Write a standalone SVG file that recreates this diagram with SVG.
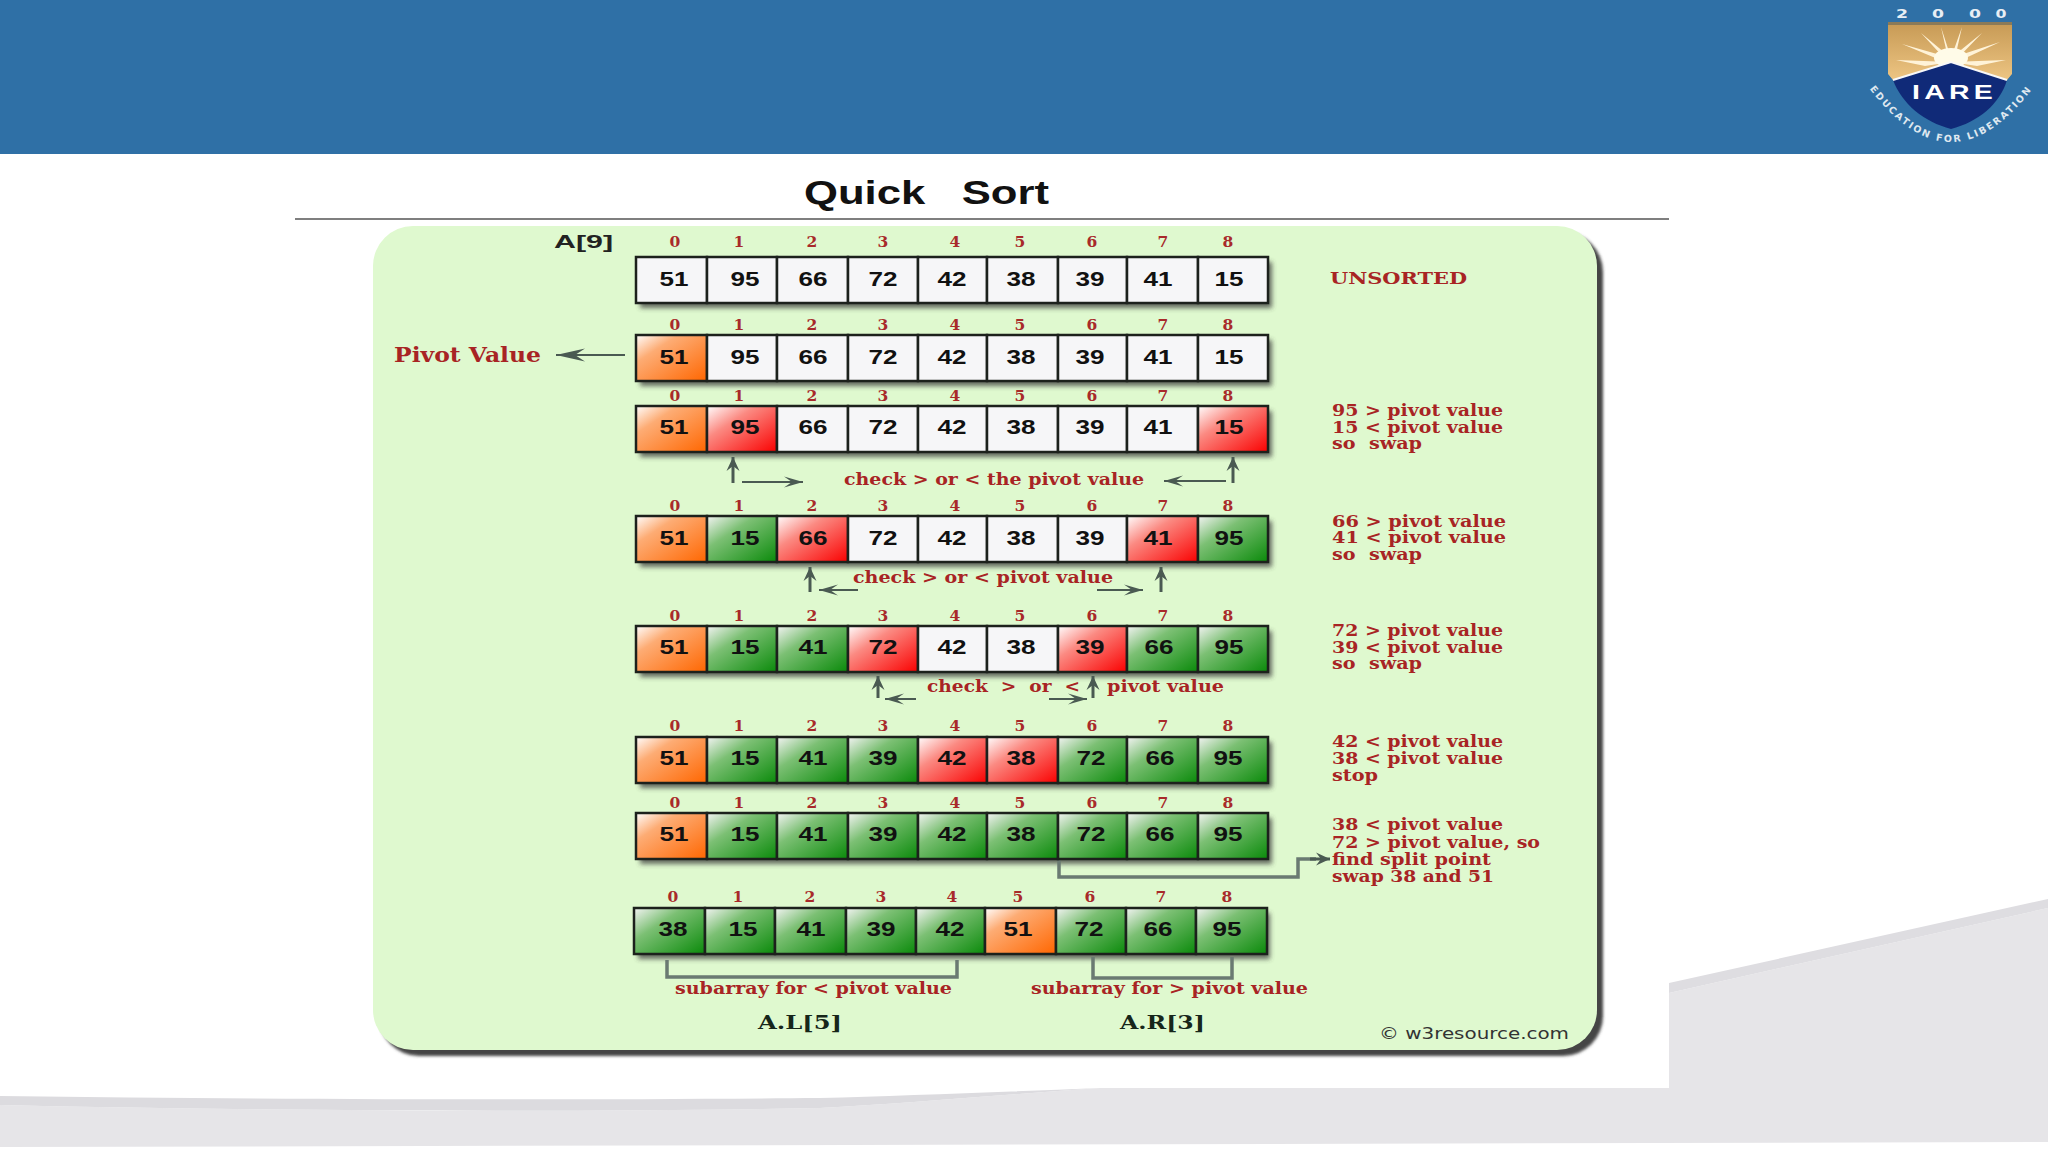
<svg xmlns="http://www.w3.org/2000/svg" width="2048" height="1152" viewBox="0 0 2048 1152">
<style>
.c{stroke:#1c211c;stroke-width:2.5}
.w{fill:#f6f6f8}.o{fill:url(#go)}.r{fill:url(#gr)}.g{fill:url(#gg)}
.i{font:bold 15.5px "DejaVu Serif",serif;fill:#a82a2a;text-anchor:middle}
.v{font:bold 20px "Liberation Sans",Arial,sans-serif;fill:#111;text-anchor:middle}
.t{font:bold 16px "DejaVu Serif",serif;fill:#a82424}
.k{font:bold 19px "DejaVu Serif",serif;fill:#16261a}
.l{fill:none;stroke:#4a5a52;stroke-width:2}
.u{fill:none;stroke:#4a5a52;stroke-width:3}
.b{fill:none;stroke:#6a7a72;stroke-width:3.5}
.s{fill:#3a3a3a;opacity:.75;filter:url(#bl)}
.y{font-family:"DejaVu Sans",sans-serif;font-weight:bold;font-size:13px;fill:#e8eef4;text-anchor:middle}
</style>
<defs>
<linearGradient id="go" x1="0" y1="0" x2="1" y2="1"><stop offset="0" stop-color="#fff"/><stop offset=".3" stop-color="#fdac74"/><stop offset="1" stop-color="#ff6600"/></linearGradient>
<linearGradient id="gr" x1="0" y1="0" x2="1" y2="1"><stop offset="0" stop-color="#fff"/><stop offset=".35" stop-color="#fb8a82"/><stop offset="1" stop-color="#fa0000"/></linearGradient>
<linearGradient id="gg" x1="0" y1="0" x2="1" y2="1"><stop offset="0" stop-color="#f4f4f4"/><stop offset=".35" stop-color="#7cc074"/><stop offset="1" stop-color="#0a8a0a"/></linearGradient>
<linearGradient id="gold" x1="0" y1="0" x2="0" y2="1"><stop offset="0" stop-color="#c79a55"/><stop offset="1" stop-color="#edc583"/></linearGradient>
<filter id="bl" x="-10%" y="-30%" width="120%" height="160%"><feGaussianBlur stdDeviation="2.5"/></filter>
<filter id="bl2" x="-5%" y="-5%" width="110%" height="110%"><feGaussianBlur stdDeviation="1.5"/></filter>
<marker id="ap" markerUnits="userSpaceOnUse" markerWidth="30" markerHeight="14" refX="29" refY="7" orient="auto"><path d="M29,7 L0,0.5 L10,7 L0,13.5 Z" fill="#4a5a52"/></marker>
<marker id="ah" markerUnits="userSpaceOnUse" markerWidth="20" markerHeight="12" refX="19" refY="6" orient="auto"><path d="M19,6 L0,0.5 L8,6 L0,11.5 Z" fill="#4a5a52"/></marker>
<marker id="au" markerUnits="userSpaceOnUse" markerWidth="15" markerHeight="14" refX="14" refY="7" orient="auto"><path d="M14,7 L0,0.5 L5,7 L0,13.5 Z" fill="#4a5a52"/></marker>
<path id="arc" d="M1866,84 Q1951,200 2036,84"/>
</defs>
<rect width="2048" height="1152" fill="#fff"/>
<g id="footer">
<path d="M0,1105 C300,1112 600,1112 820,1108 C900,1104 1000,1095 1100,1088 L1669,1088 L1669,993 L2048,908 L2048,1142 L0,1147 Z" fill="#e6e5e8"/>
<path d="M0,1096 C300,1100 600,1100 820,1098 C900,1096 1000,1092 1100,1088 C1000,1095 900,1104 820,1108 C600,1112 300,1112 0,1105 Z" fill="#dcdbdf"/>
<path d="M1669,983 L2048,899 L2048,908 L1669,993 Z" fill="#dedde1"/>
</g>
<rect id="header" width="2048" height="154" fill="#2f70a6"/>
<g id="logo">
<path d="M1888,23 L2012,23 L2012,74 L2007,80 L1951,62 L1893,80 L1888,74 Z" fill="url(#gold)"/>
<rect x="1888" y="22" width="124" height="3" fill="#8a7a58"/>
<path d="M1951,58 L1902,44 L1945,62 Z M1951,58 L1921,33 L1945,59 Z M1951,58 L1941,27 L1948,58 Z M1951,58 L1962,27 L1955,58 Z M1951,58 L1982,33 L1957,59 Z M1951,58 L2000,42 L1957,62 Z M1951,62 L1896,60 L1925,66 Z M1951,62 L2006,60 L1977,66 Z" fill="#fff3d8"/>
<ellipse cx="1951" cy="58" rx="17" ry="10" fill="#fffbe8"/>
<path d="M1893,80 L1951,62 L2007,80 C2000,104 1978,122 1951,129 C1924,122 1902,104 1893,80 Z" fill="#102a78"/>
<path d="M1893,80 L1951,62 L2007,80" fill="none" stroke="#f8f8f8" stroke-width="2"/>
<text x="1954.5" y="99" text-anchor="middle" font-family="'Liberation Sans',sans-serif" font-weight="bold" font-size="20" letter-spacing="3" fill="#fff" textLength="85" lengthAdjust="spacingAndGlyphs">IARE</text>
<text class="y" x="1902" y="18" textLength="12" lengthAdjust="spacingAndGlyphs">2</text>
<text class="y" x="1938" y="18" textLength="12" lengthAdjust="spacingAndGlyphs">0</text>
<text class="y" x="1975" y="18" textLength="12" lengthAdjust="spacingAndGlyphs">0</text>
<text class="y" x="2001" y="18" textLength="11" lengthAdjust="spacingAndGlyphs">0</text>
<text font-family="'DejaVu Sans',sans-serif" font-weight="bold" font-size="9.5" letter-spacing="2" fill="#dfe8f0" text-anchor="middle"><textPath href="#arc" startOffset="50%">EDUCATION FOR LIBERATION</textPath></text>
</g>
<g id="title">
<text x="804" y="204" xml:space="preserve" font-family="'Liberation Sans',Arial,sans-serif" font-weight="bold" font-size="34" fill="#111" textLength="245" lengthAdjust="spacingAndGlyphs">Quick   Sort</text>
<line x1="295" y1="219" x2="1669" y2="219" stroke="#555" stroke-width="1.5"/>
</g>
<g id="panel">
<rect x="379" y="232" width="1224" height="824" rx="40" fill="#444" filter="url(#bl2)"/>
<rect x="373" y="226" width="1224" height="824" rx="40" fill="#dff9cf"/>
</g>
<g id="shadows">
<rect class="s" x="640" y="262" width="632" height="46"/>
<rect class="s" x="640" y="340" width="632" height="46"/>
<rect class="s" x="640" y="411" width="632" height="46"/>
<rect class="s" x="640" y="521" width="632" height="46"/>
<rect class="s" x="640" y="631" width="632" height="46"/>
<rect class="s" x="640" y="742" width="632" height="46"/>
<rect class="s" x="640" y="818" width="632" height="46"/>
<rect class="s" x="638" y="913" width="632" height="46"/>
</g>
<g id="connectors">
<line class="l" x1="625" y1="355" x2="556" y2="355" marker-end="url(#ap)"/>
<line class="u" x1="733" y1="483" x2="733" y2="457" marker-end="url(#au)"/>
<line class="l" x1="742" y1="482" x2="803" y2="482" marker-end="url(#ah)"/>
<line class="u" x1="1233" y1="483" x2="1233" y2="457" marker-end="url(#au)"/>
<line class="l" x1="1226" y1="481" x2="1164" y2="481" marker-end="url(#ah)"/>
<line class="u" x1="810" y1="592" x2="810" y2="567" marker-end="url(#au)"/>
<line class="l" x1="858" y1="590" x2="819" y2="590" marker-end="url(#ah)"/>
<line class="u" x1="1161" y1="592" x2="1161" y2="567" marker-end="url(#au)"/>
<line class="l" x1="1097" y1="590" x2="1143" y2="590" marker-end="url(#ah)"/>
<line class="u" x1="878" y1="698" x2="878" y2="676" marker-end="url(#au)"/>
<line class="l" x1="916" y1="699" x2="885" y2="699" marker-end="url(#ah)"/>
<line class="u" x1="1093" y1="698" x2="1093" y2="676" marker-end="url(#au)"/>
<line class="l" x1="1049" y1="699" x2="1087" y2="699" marker-end="url(#ah)"/>
<path class="b" d="M1059,859 V877 H1298 V859 H1316"/>
<line class="u" x1="1310" y1="859" x2="1330" y2="859" marker-end="url(#au)"/>
<path class="b" d="M667,960 V977 H957 V960"/>
<path class="b" d="M1093,957 V978 H1232 V957"/>
</g>
<g id="row0">
<g id="r0c0"><rect class="c w" x="636" y="257" width="71" height="46"/><text class="i" x="675" y="247">0</text><text class="v" x="674" y="285.5" textLength="29" lengthAdjust="spacingAndGlyphs">51</text></g>
<g id="r0c1"><rect class="c w" x="707" y="257" width="70" height="46"/><text class="i" x="739" y="247">1</text><text class="v" x="745" y="285.5" textLength="29" lengthAdjust="spacingAndGlyphs">95</text></g>
<g id="r0c2"><rect class="c w" x="777" y="257" width="71" height="46"/><text class="i" x="812" y="247">2</text><text class="v" x="813" y="285.5" textLength="29" lengthAdjust="spacingAndGlyphs">66</text></g>
<g id="r0c3"><rect class="c w" x="848" y="257" width="70" height="46"/><text class="i" x="883" y="247">3</text><text class="v" x="883" y="285.5" textLength="29" lengthAdjust="spacingAndGlyphs">72</text></g>
<g id="r0c4"><rect class="c w" x="918" y="257" width="69" height="46"/><text class="i" x="955" y="247">4</text><text class="v" x="952" y="285.5" textLength="29" lengthAdjust="spacingAndGlyphs">42</text></g>
<g id="r0c5"><rect class="c w" x="987" y="257" width="71" height="46"/><text class="i" x="1020" y="247">5</text><text class="v" x="1021" y="285.5" textLength="29" lengthAdjust="spacingAndGlyphs">38</text></g>
<g id="r0c6"><rect class="c w" x="1058" y="257" width="69" height="46"/><text class="i" x="1092" y="247">6</text><text class="v" x="1090" y="285.5" textLength="29" lengthAdjust="spacingAndGlyphs">39</text></g>
<g id="r0c7"><rect class="c w" x="1127" y="257" width="71" height="46"/><text class="i" x="1163" y="247">7</text><text class="v" x="1158" y="285.5" textLength="29" lengthAdjust="spacingAndGlyphs">41</text></g>
<g id="r0c8"><rect class="c w" x="1198" y="257" width="70" height="46"/><text class="i" x="1228" y="247">8</text><text class="v" x="1229" y="285.5" textLength="29" lengthAdjust="spacingAndGlyphs">15</text></g>
</g>
<g id="row1">
<g id="r1c0"><rect class="c o" x="636" y="335" width="71" height="46"/><text class="i" x="675" y="330">0</text><text class="v" x="674" y="363.5" textLength="29" lengthAdjust="spacingAndGlyphs">51</text></g>
<g id="r1c1"><rect class="c w" x="707" y="335" width="70" height="46"/><text class="i" x="739" y="330">1</text><text class="v" x="745" y="363.5" textLength="29" lengthAdjust="spacingAndGlyphs">95</text></g>
<g id="r1c2"><rect class="c w" x="777" y="335" width="71" height="46"/><text class="i" x="812" y="330">2</text><text class="v" x="813" y="363.5" textLength="29" lengthAdjust="spacingAndGlyphs">66</text></g>
<g id="r1c3"><rect class="c w" x="848" y="335" width="70" height="46"/><text class="i" x="883" y="330">3</text><text class="v" x="883" y="363.5" textLength="29" lengthAdjust="spacingAndGlyphs">72</text></g>
<g id="r1c4"><rect class="c w" x="918" y="335" width="69" height="46"/><text class="i" x="955" y="330">4</text><text class="v" x="952" y="363.5" textLength="29" lengthAdjust="spacingAndGlyphs">42</text></g>
<g id="r1c5"><rect class="c w" x="987" y="335" width="71" height="46"/><text class="i" x="1020" y="330">5</text><text class="v" x="1021" y="363.5" textLength="29" lengthAdjust="spacingAndGlyphs">38</text></g>
<g id="r1c6"><rect class="c w" x="1058" y="335" width="69" height="46"/><text class="i" x="1092" y="330">6</text><text class="v" x="1090" y="363.5" textLength="29" lengthAdjust="spacingAndGlyphs">39</text></g>
<g id="r1c7"><rect class="c w" x="1127" y="335" width="71" height="46"/><text class="i" x="1163" y="330">7</text><text class="v" x="1158" y="363.5" textLength="29" lengthAdjust="spacingAndGlyphs">41</text></g>
<g id="r1c8"><rect class="c w" x="1198" y="335" width="70" height="46"/><text class="i" x="1228" y="330">8</text><text class="v" x="1229" y="363.5" textLength="29" lengthAdjust="spacingAndGlyphs">15</text></g>
</g>
<g id="row2">
<g id="r2c0"><rect class="c o" x="636" y="406" width="71" height="46"/><text class="i" x="675" y="401">0</text><text class="v" x="674" y="433.5" textLength="29" lengthAdjust="spacingAndGlyphs">51</text></g>
<g id="r2c1"><rect class="c r" x="707" y="406" width="70" height="46"/><text class="i" x="739" y="401">1</text><text class="v" x="745" y="433.5" textLength="29" lengthAdjust="spacingAndGlyphs">95</text></g>
<g id="r2c2"><rect class="c w" x="777" y="406" width="71" height="46"/><text class="i" x="812" y="401">2</text><text class="v" x="813" y="433.5" textLength="29" lengthAdjust="spacingAndGlyphs">66</text></g>
<g id="r2c3"><rect class="c w" x="848" y="406" width="70" height="46"/><text class="i" x="883" y="401">3</text><text class="v" x="883" y="433.5" textLength="29" lengthAdjust="spacingAndGlyphs">72</text></g>
<g id="r2c4"><rect class="c w" x="918" y="406" width="69" height="46"/><text class="i" x="955" y="401">4</text><text class="v" x="952" y="433.5" textLength="29" lengthAdjust="spacingAndGlyphs">42</text></g>
<g id="r2c5"><rect class="c w" x="987" y="406" width="71" height="46"/><text class="i" x="1020" y="401">5</text><text class="v" x="1021" y="433.5" textLength="29" lengthAdjust="spacingAndGlyphs">38</text></g>
<g id="r2c6"><rect class="c w" x="1058" y="406" width="69" height="46"/><text class="i" x="1092" y="401">6</text><text class="v" x="1090" y="433.5" textLength="29" lengthAdjust="spacingAndGlyphs">39</text></g>
<g id="r2c7"><rect class="c w" x="1127" y="406" width="71" height="46"/><text class="i" x="1163" y="401">7</text><text class="v" x="1158" y="433.5" textLength="29" lengthAdjust="spacingAndGlyphs">41</text></g>
<g id="r2c8"><rect class="c r" x="1198" y="406" width="70" height="46"/><text class="i" x="1228" y="401">8</text><text class="v" x="1229" y="433.5" textLength="29" lengthAdjust="spacingAndGlyphs">15</text></g>
</g>
<g id="row3">
<g id="r3c0"><rect class="c o" x="636" y="516" width="71" height="46"/><text class="i" x="675" y="511">0</text><text class="v" x="674" y="544.5" textLength="29" lengthAdjust="spacingAndGlyphs">51</text></g>
<g id="r3c1"><rect class="c g" x="707" y="516" width="70" height="46"/><text class="i" x="739" y="511">1</text><text class="v" x="745" y="544.5" textLength="29" lengthAdjust="spacingAndGlyphs">15</text></g>
<g id="r3c2"><rect class="c r" x="777" y="516" width="71" height="46"/><text class="i" x="812" y="511">2</text><text class="v" x="813" y="544.5" textLength="29" lengthAdjust="spacingAndGlyphs">66</text></g>
<g id="r3c3"><rect class="c w" x="848" y="516" width="70" height="46"/><text class="i" x="883" y="511">3</text><text class="v" x="883" y="544.5" textLength="29" lengthAdjust="spacingAndGlyphs">72</text></g>
<g id="r3c4"><rect class="c w" x="918" y="516" width="69" height="46"/><text class="i" x="955" y="511">4</text><text class="v" x="952" y="544.5" textLength="29" lengthAdjust="spacingAndGlyphs">42</text></g>
<g id="r3c5"><rect class="c w" x="987" y="516" width="71" height="46"/><text class="i" x="1020" y="511">5</text><text class="v" x="1021" y="544.5" textLength="29" lengthAdjust="spacingAndGlyphs">38</text></g>
<g id="r3c6"><rect class="c w" x="1058" y="516" width="69" height="46"/><text class="i" x="1092" y="511">6</text><text class="v" x="1090" y="544.5" textLength="29" lengthAdjust="spacingAndGlyphs">39</text></g>
<g id="r3c7"><rect class="c r" x="1127" y="516" width="71" height="46"/><text class="i" x="1163" y="511">7</text><text class="v" x="1158" y="544.5" textLength="29" lengthAdjust="spacingAndGlyphs">41</text></g>
<g id="r3c8"><rect class="c g" x="1198" y="516" width="70" height="46"/><text class="i" x="1228" y="511">8</text><text class="v" x="1229" y="544.5" textLength="29" lengthAdjust="spacingAndGlyphs">95</text></g>
</g>
<g id="row4">
<g id="r4c0"><rect class="c o" x="636" y="626" width="71" height="46"/><text class="i" x="675" y="621">0</text><text class="v" x="674" y="654" textLength="29" lengthAdjust="spacingAndGlyphs">51</text></g>
<g id="r4c1"><rect class="c g" x="707" y="626" width="70" height="46"/><text class="i" x="739" y="621">1</text><text class="v" x="745" y="654" textLength="29" lengthAdjust="spacingAndGlyphs">15</text></g>
<g id="r4c2"><rect class="c g" x="777" y="626" width="71" height="46"/><text class="i" x="812" y="621">2</text><text class="v" x="813" y="654" textLength="29" lengthAdjust="spacingAndGlyphs">41</text></g>
<g id="r4c3"><rect class="c r" x="848" y="626" width="70" height="46"/><text class="i" x="883" y="621">3</text><text class="v" x="883" y="654" textLength="29" lengthAdjust="spacingAndGlyphs">72</text></g>
<g id="r4c4"><rect class="c w" x="918" y="626" width="69" height="46"/><text class="i" x="955" y="621">4</text><text class="v" x="952" y="654" textLength="29" lengthAdjust="spacingAndGlyphs">42</text></g>
<g id="r4c5"><rect class="c w" x="987" y="626" width="71" height="46"/><text class="i" x="1020" y="621">5</text><text class="v" x="1021" y="654" textLength="29" lengthAdjust="spacingAndGlyphs">38</text></g>
<g id="r4c6"><rect class="c r" x="1058" y="626" width="69" height="46"/><text class="i" x="1092" y="621">6</text><text class="v" x="1090" y="654" textLength="29" lengthAdjust="spacingAndGlyphs">39</text></g>
<g id="r4c7"><rect class="c g" x="1127" y="626" width="71" height="46"/><text class="i" x="1163" y="621">7</text><text class="v" x="1159" y="654" textLength="29" lengthAdjust="spacingAndGlyphs">66</text></g>
<g id="r4c8"><rect class="c g" x="1198" y="626" width="70" height="46"/><text class="i" x="1228" y="621">8</text><text class="v" x="1229" y="654" textLength="29" lengthAdjust="spacingAndGlyphs">95</text></g>
</g>
<g id="row5">
<g id="r5c0"><rect class="c o" x="636" y="737" width="71" height="46"/><text class="i" x="675" y="731">0</text><text class="v" x="674" y="764.5" textLength="29" lengthAdjust="spacingAndGlyphs">51</text></g>
<g id="r5c1"><rect class="c g" x="707" y="737" width="70" height="46"/><text class="i" x="739" y="731">1</text><text class="v" x="745" y="764.5" textLength="29" lengthAdjust="spacingAndGlyphs">15</text></g>
<g id="r5c2"><rect class="c g" x="777" y="737" width="71" height="46"/><text class="i" x="812" y="731">2</text><text class="v" x="813" y="764.5" textLength="29" lengthAdjust="spacingAndGlyphs">41</text></g>
<g id="r5c3"><rect class="c g" x="848" y="737" width="70" height="46"/><text class="i" x="883" y="731">3</text><text class="v" x="883" y="764.5" textLength="29" lengthAdjust="spacingAndGlyphs">39</text></g>
<g id="r5c4"><rect class="c r" x="918" y="737" width="69" height="46"/><text class="i" x="955" y="731">4</text><text class="v" x="952" y="764.5" textLength="29" lengthAdjust="spacingAndGlyphs">42</text></g>
<g id="r5c5"><rect class="c r" x="987" y="737" width="71" height="46"/><text class="i" x="1020" y="731">5</text><text class="v" x="1021" y="764.5" textLength="29" lengthAdjust="spacingAndGlyphs">38</text></g>
<g id="r5c6"><rect class="c g" x="1058" y="737" width="69" height="46"/><text class="i" x="1092" y="731">6</text><text class="v" x="1091" y="764.5" textLength="29" lengthAdjust="spacingAndGlyphs">72</text></g>
<g id="r5c7"><rect class="c g" x="1127" y="737" width="71" height="46"/><text class="i" x="1163" y="731">7</text><text class="v" x="1160" y="764.5" textLength="29" lengthAdjust="spacingAndGlyphs">66</text></g>
<g id="r5c8"><rect class="c g" x="1198" y="737" width="70" height="46"/><text class="i" x="1228" y="731">8</text><text class="v" x="1228" y="764.5" textLength="29" lengthAdjust="spacingAndGlyphs">95</text></g>
</g>
<g id="row6">
<g id="r6c0"><rect class="c o" x="636" y="813" width="71" height="46"/><text class="i" x="675" y="808">0</text><text class="v" x="674" y="841" textLength="29" lengthAdjust="spacingAndGlyphs">51</text></g>
<g id="r6c1"><rect class="c g" x="707" y="813" width="70" height="46"/><text class="i" x="739" y="808">1</text><text class="v" x="745" y="841" textLength="29" lengthAdjust="spacingAndGlyphs">15</text></g>
<g id="r6c2"><rect class="c g" x="777" y="813" width="71" height="46"/><text class="i" x="812" y="808">2</text><text class="v" x="813" y="841" textLength="29" lengthAdjust="spacingAndGlyphs">41</text></g>
<g id="r6c3"><rect class="c g" x="848" y="813" width="70" height="46"/><text class="i" x="883" y="808">3</text><text class="v" x="883" y="841" textLength="29" lengthAdjust="spacingAndGlyphs">39</text></g>
<g id="r6c4"><rect class="c g" x="918" y="813" width="69" height="46"/><text class="i" x="955" y="808">4</text><text class="v" x="952" y="841" textLength="29" lengthAdjust="spacingAndGlyphs">42</text></g>
<g id="r6c5"><rect class="c g" x="987" y="813" width="71" height="46"/><text class="i" x="1020" y="808">5</text><text class="v" x="1021" y="841" textLength="29" lengthAdjust="spacingAndGlyphs">38</text></g>
<g id="r6c6"><rect class="c g" x="1058" y="813" width="69" height="46"/><text class="i" x="1092" y="808">6</text><text class="v" x="1091" y="841" textLength="29" lengthAdjust="spacingAndGlyphs">72</text></g>
<g id="r6c7"><rect class="c g" x="1127" y="813" width="71" height="46"/><text class="i" x="1163" y="808">7</text><text class="v" x="1160" y="841" textLength="29" lengthAdjust="spacingAndGlyphs">66</text></g>
<g id="r6c8"><rect class="c g" x="1198" y="813" width="70" height="46"/><text class="i" x="1228" y="808">8</text><text class="v" x="1228" y="841" textLength="29" lengthAdjust="spacingAndGlyphs">95</text></g>
</g>
<g id="row7">
<g id="r7c0"><rect class="c g" x="634" y="908" width="71" height="46"/><text class="i" x="673" y="902">0</text><text class="v" x="673" y="936" textLength="29" lengthAdjust="spacingAndGlyphs">38</text></g>
<g id="r7c1"><rect class="c g" x="705" y="908" width="70" height="46"/><text class="i" x="738" y="902">1</text><text class="v" x="743" y="936" textLength="29" lengthAdjust="spacingAndGlyphs">15</text></g>
<g id="r7c2"><rect class="c g" x="775" y="908" width="71" height="46"/><text class="i" x="810" y="902">2</text><text class="v" x="811" y="936" textLength="29" lengthAdjust="spacingAndGlyphs">41</text></g>
<g id="r7c3"><rect class="c g" x="846" y="908" width="70" height="46"/><text class="i" x="881" y="902">3</text><text class="v" x="881" y="936" textLength="29" lengthAdjust="spacingAndGlyphs">39</text></g>
<g id="r7c4"><rect class="c g" x="916" y="908" width="69" height="46"/><text class="i" x="952" y="902">4</text><text class="v" x="950" y="936" textLength="29" lengthAdjust="spacingAndGlyphs">42</text></g>
<g id="r7c5"><rect class="c o" x="985" y="908" width="71" height="46"/><text class="i" x="1018" y="902">5</text><text class="v" x="1018" y="936" textLength="29" lengthAdjust="spacingAndGlyphs">51</text></g>
<g id="r7c6"><rect class="c g" x="1056" y="908" width="70" height="46"/><text class="i" x="1090" y="902">6</text><text class="v" x="1089" y="936" textLength="29" lengthAdjust="spacingAndGlyphs">72</text></g>
<g id="r7c7"><rect class="c g" x="1126" y="908" width="70" height="46"/><text class="i" x="1161" y="902">7</text><text class="v" x="1158" y="936" textLength="29" lengthAdjust="spacingAndGlyphs">66</text></g>
<g id="r7c8"><rect class="c g" x="1196" y="908" width="71" height="46"/><text class="i" x="1227" y="902">8</text><text class="v" x="1227" y="936" textLength="29" lengthAdjust="spacingAndGlyphs">95</text></g>
</g>
<g id="labels">
<text x="554" y="248" font-family="'Liberation Sans',sans-serif" font-weight="bold" font-size="18" fill="#222" textLength="59" lengthAdjust="spacingAndGlyphs">A[9]</text>
<text x="394" y="362" font-family="'DejaVu Serif',serif" font-weight="bold" font-size="20" fill="#a82424" textLength="147" lengthAdjust="spacingAndGlyphs">Pivot Value</text>
<text class="t" x="1330" y="284" textLength="137" lengthAdjust="spacingAndGlyphs">UNSORTED</text>
<text class="t" x="1332" y="416" textLength="171" lengthAdjust="spacingAndGlyphs">95 &gt; pivot value</text>
<text class="t" x="1332" y="433" textLength="171" lengthAdjust="spacingAndGlyphs">15 &lt; pivot value</text>
<text class="t" x="1332" y="449" xml:space="preserve" textLength="90" lengthAdjust="spacingAndGlyphs">so  swap</text>
<text class="t" x="1332" y="527" textLength="174" lengthAdjust="spacingAndGlyphs">66 &gt; pivot value</text>
<text class="t" x="1332" y="543" textLength="174" lengthAdjust="spacingAndGlyphs">41 &lt; pivot value</text>
<text class="t" x="1332" y="560" xml:space="preserve" textLength="90" lengthAdjust="spacingAndGlyphs">so  swap</text>
<text class="t" x="1332" y="636" textLength="171" lengthAdjust="spacingAndGlyphs">72 &gt; pivot value</text>
<text class="t" x="1332" y="653" textLength="171" lengthAdjust="spacingAndGlyphs">39 &lt; pivot value</text>
<text class="t" x="1332" y="669" xml:space="preserve" textLength="90" lengthAdjust="spacingAndGlyphs">so  swap</text>
<text class="t" x="1332" y="747" textLength="171" lengthAdjust="spacingAndGlyphs">42 &lt; pivot value</text>
<text class="t" x="1332" y="764" textLength="171" lengthAdjust="spacingAndGlyphs">38 &lt; pivot value</text>
<text class="t" x="1332" y="781" textLength="46" lengthAdjust="spacingAndGlyphs">stop</text>
<text class="t" x="1332" y="830" textLength="171" lengthAdjust="spacingAndGlyphs">38 &lt; pivot value</text>
<text class="t" x="1332" y="848" textLength="208" lengthAdjust="spacingAndGlyphs">72 &gt; pivot value, so</text>
<text class="t" x="1332" y="865" textLength="159" lengthAdjust="spacingAndGlyphs">find split point</text>
<text class="t" x="1332" y="882" textLength="162" lengthAdjust="spacingAndGlyphs">swap 38 and 51</text>
<text class="t" x="844" y="485" textLength="300" lengthAdjust="spacingAndGlyphs">check &gt; or &lt; the pivot value</text>
<text class="t" x="853" y="583" textLength="260" lengthAdjust="spacingAndGlyphs">check &gt; or &lt; pivot value</text>
<text class="t" x="927" y="692" xml:space="preserve" textLength="153" lengthAdjust="spacingAndGlyphs">check  &gt;  or  &lt;</text>
<text class="t" x="1107" y="692" textLength="117" lengthAdjust="spacingAndGlyphs">pivot value</text>
<text class="t" x="675" y="994" textLength="277" lengthAdjust="spacingAndGlyphs">subarray for &lt; pivot value</text>
<text class="t" x="1031" y="994" textLength="277" lengthAdjust="spacingAndGlyphs">subarray for &gt; pivot value</text>
<text class="k" x="758" y="1029" textLength="84" lengthAdjust="spacingAndGlyphs">A.L[5]</text>
<text class="k" x="1120" y="1029" textLength="85" lengthAdjust="spacingAndGlyphs">A.R[3]</text>
<text x="1379" y="1039" font-family="'DejaVu Sans',sans-serif" font-size="15" fill="#333" textLength="190" lengthAdjust="spacingAndGlyphs">© w3resource.com</text>
</g>
</svg>
